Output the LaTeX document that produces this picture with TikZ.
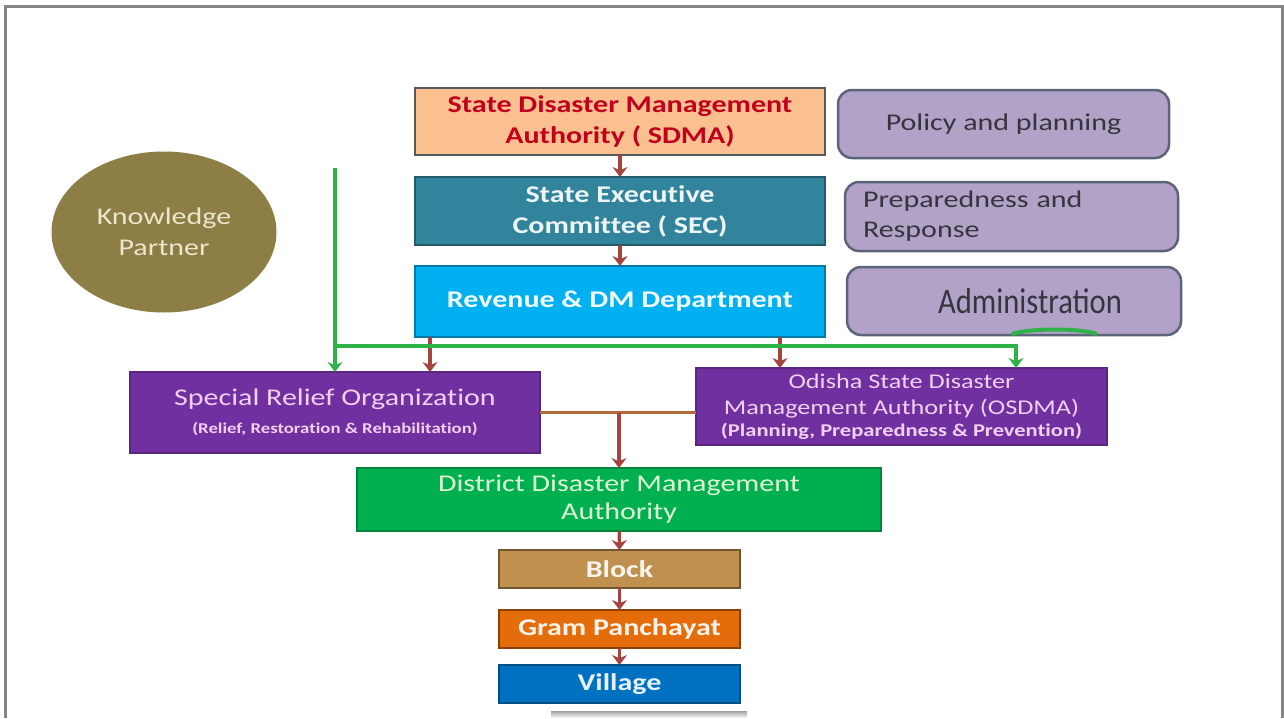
\documentclass[tikz,border=0pt]{standalone}
\usepackage{fontspec}
\setmainfont[FakeStretch=1.25, Ligatures=NoCommon]{Carlito}
\newfontfamily\narrowfont[FakeStretch=0.85]{Carlito}
\usetikzlibrary{positioning}
\usetikzlibrary{shapes.geometric,arrows.meta,calc}

\definecolor{sdmabg}{HTML}{FAC090}
\definecolor{sdmatx}{HTML}{C0001C}
\definecolor{secbg}{HTML}{31849B}
\definecolor{revbg}{HTML}{00B0F0}
\definecolor{rolebg}{HTML}{B3A2C7}
\definecolor{rolefr}{HTML}{5B6478}
\definecolor{roletx}{HTML}{35353F}
\definecolor{kpbg}{HTML}{8C7E45}
\definecolor{kptx}{HTML}{EDE6CF}
\definecolor{purplebg}{HTML}{7030A0}
\definecolor{purpletx}{HTML}{F2D0F2}
\definecolor{ddmabg}{HTML}{00B050}
\definecolor{ddmatx}{HTML}{DDF7D6}
\definecolor{blockbg}{HTML}{C0904F}
\definecolor{grambg}{HTML}{E46C0A}
\definecolor{villbg}{HTML}{0070C0}
\definecolor{arrowred}{HTML}{A5443E}
\definecolor{linkbrown}{HTML}{B36B3C}
\definecolor{kpgreen}{HTML}{2DB34A}
\definecolor{framegray}{HTML}{858585}

\newcommand{\bigsize}{\fontsize{24}{31}\selectfont}
\newcommand{\midsize}{\fontsize{21}{26}\selectfont}

\begin{document}
\begin{tikzpicture}[x=1pt, y=-1pt, outer sep=0pt, font=\bigsize]
\tikzstyle{level}=[
                  draw,
                  rectangle,
                  line width=1.5pt,
                  align=center,
                  inner sep=0pt,
                  anchor=north west]

\tikzstyle{role}=[
                  draw=rolefr,
                  fill=rolebg,
                  rectangle,
                  rounded corners=14pt,
                  line width=2.5pt,
                  text=roletx,
                  inner sep=0pt,
                  anchor=north west]

\tikzstyle{flow}=[-{Stealth[length=10pt,width=15pt]}, draw=arrowred, line width=3.2pt]
\tikzstyle{link}=[draw=linkbrown, line width=3pt]
\tikzstyle{kplink}=[draw=kpgreen, line width=3.5pt]
\tikzstyle{kpflow}=[kplink, -{Stealth[length=10pt,width=15pt]}]

\useasboundingbox (0,0) rectangle (1284,718);
\draw [framegray, line width=3pt] (5,718) -- (5,6.5) -- (1282,6.5) -- (1282,718);

% state level chain
\node[level, fill=sdmabg, draw=black!65, line width=2.5pt, text=sdmatx, font=\bigsize\bfseries] (sdma) at(415,88)
      [minimum width=410, minimum height=67] {State Disaster Management\\Authority ( SDMA)};
\node[level, fill=secbg, draw=secbg!70!black, text=white!92!secbg, font=\bigsize\bfseries] (sec) at(415,177)
      [minimum width=410, minimum height=68] {State Executive\\Committee ( SEC)};
\node[level, fill=revbg, draw=revbg!70!black, text=white!95!revbg, font=\bigsize\bfseries] (revenue) at(415,266)
      [minimum width=410, minimum height=71] {Revenue \& DM Department};

% roles on the right
\node[role] (policy)   at(838,90)  [minimum width=331, minimum height=68] {Policy and planning};
\node[role, align=left, text width=297] (prepared) at(845,182) [minimum width=333, minimum height=69]
      {Preparedness and\\[-1pt]Response};
\node[role] (admin)    at(847,267) [minimum width=334, minimum height=68]
      {\hspace*{32pt}{\narrowfont\fontsize{36}{40}\selectfont Administration}};
\draw [kpgreen, line width=4pt] (1012,334) .. controls (1030,328) and (1080,328) .. (1097,334);

\node[ellipse, fill=kpbg, text=kptx, align=center, inner sep=0pt] (knowledge) at(164,232)
      [minimum width=225, minimum height=161] {Knowledge\\Partner};

% second level
\node[level, fill=purplebg, draw=purplebg!80!black, text=purpletx] (sro) at(130,372)
      [minimum width=410, minimum height=81]
      {Special Relief Organization\\[-3pt]{\fontsize{15}{18}\selectfont\bfseries (Relief, Restoration \& Rehabilitation)}};
\node[level, fill=purplebg, draw=purplebg!80!black, text=purpletx, font=\midsize] (osdma) at(696,368)
      [minimum width=411, minimum height=77]
      {Odisha State Disaster\\Management Authority (OSDMA)\\[-4pt]{\fontsize{18}{22}\selectfont\bfseries (Planning, Preparedness \& Prevention)}};

% district and below
\node[level, fill=ddmabg, draw=ddmabg!75!black, text=ddmatx] (ddma) at(357,468)
      [minimum width=524, minimum height=63] {District Disaster Management\\[-3pt]Authority};
\node[level, fill=blockbg, draw=blockbg!60!black, text=white!90!blockbg, font=\bigsize\bfseries] (block) at(499,550)
      [minimum width=241, minimum height=38] {Block};
\node[level, fill=grambg, draw=grambg!60!black, text=white!92!grambg, font=\bigsize\bfseries] (gram) at(499,610)
      [minimum width=241, minimum height=38] {Gram Panchayat};
\node[level, fill=villbg, draw=villbg!70!black, text=white!90!villbg, font=\bigsize\bfseries] (village) at(499,665)
      [minimum width=241, minimum height=38] {Village};
\shade [top color=gray!75, bottom color=white] (551,711) rectangle (747,718);

% connectors
\draw [flow] (sdma) -- (sec);
\draw [flow] (sec) -- (revenue);
\draw [flow] ([xshift=15pt]revenue.south west) -- ([xshift=15pt]revenue.south west |- sro.north);
\draw [flow] ([xshift=-45pt]revenue.south east) -- ([xshift=-45pt]revenue.south east |- osdma.north);

\coordinate (kptop)  at (335,168);
\coordinate (kpjoin) at (335,346);
\coordinate (kpend)  at (1016,346);
\draw [kpflow] (kptop) -- (kptop |- sro.north);
\draw [kpflow] (kpjoin) -- (kpend) -- (kpend |- osdma.north);

\draw [link] (sro.east) -- (sro.east -| osdma.west);
\draw [flow] (sro.east -| ddma.north) -- (ddma.north);
\draw [flow] (ddma) -- (block);
\draw [flow] (block) -- (gram);
\draw [flow] (gram) -- (village);

\end{tikzpicture}
\end{document}
